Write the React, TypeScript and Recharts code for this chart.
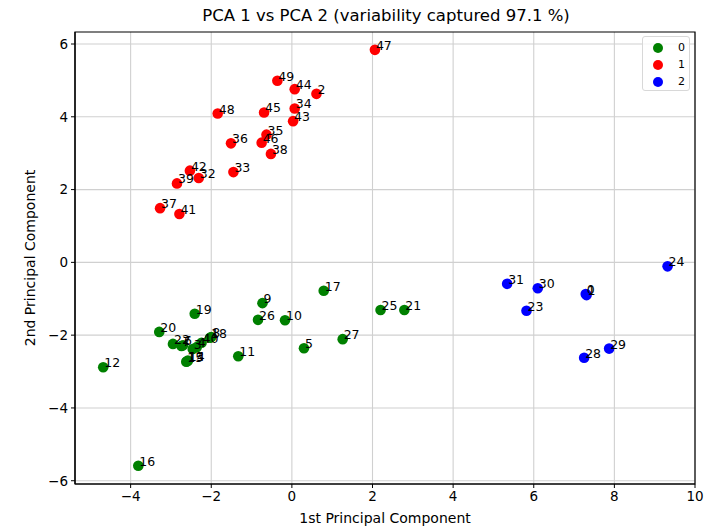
import React from 'react';
import { ScatterChart, Scatter, XAxis, YAxis, CartesianGrid, Legend, ReferenceArea } from 'recharts';

type Pt = { id: number; x: number; y: number };

const class0: Pt[] = [
  { id: 3, x: -2.46, y: -2.38 },
  { id: 4, x: -2.36, y: -2.33 },
  { id: 5, x: 0.3, y: -2.36 },
  { id: 6, x: -2.7, y: -2.28 },
  { id: 7, x: -2.74, y: -2.3 },
  { id: 8, x: -2.0, y: -2.05 },
  { id: 9, x: -0.73, y: -1.12 },
  { id: 10, x: -0.17, y: -1.59 },
  { id: 11, x: -1.33, y: -2.58 },
  { id: 12, x: -4.68, y: -2.88 },
  { id: 13, x: -2.6, y: -2.72 },
  { id: 14, x: -2.58, y: -2.7 },
  { id: 15, x: -2.62, y: -2.73 },
  { id: 16, x: -3.81, y: -5.59 },
  { id: 17, x: 0.79, y: -0.78 },
  { id: 18, x: -2.03, y: -2.07 },
  { id: 19, x: -2.41, y: -1.41 },
  { id: 20, x: -3.29, y: -1.91 },
  { id: 21, x: 2.79, y: -1.31 },
  { id: 22, x: -2.95, y: -2.24 },
  { id: 25, x: 2.2, y: -1.31 },
  { id: 26, x: -0.84, y: -1.58 },
  { id: 27, x: 1.26, y: -2.11 },
  { id: 40, x: -2.24, y: -2.21 },
];

const class1: Pt[] = [
  { id: 2, x: 0.61, y: 4.63 },
  { id: 32, x: -2.31, y: 2.32 },
  { id: 33, x: -1.45, y: 2.48 },
  { id: 34, x: 0.07, y: 4.23 },
  { id: 35, x: -0.63, y: 3.51 },
  { id: 36, x: -1.51, y: 3.27 },
  { id: 37, x: -3.27, y: 1.49 },
  { id: 38, x: -0.52, y: 2.98 },
  { id: 39, x: -2.85, y: 2.17 },
  { id: 41, x: -2.79, y: 1.33 },
  { id: 42, x: -2.53, y: 2.52 },
  { id: 43, x: 0.03, y: 3.88 },
  { id: 44, x: 0.07, y: 4.76 },
  { id: 45, x: -0.69, y: 4.12 },
  { id: 46, x: -0.75, y: 3.29 },
  { id: 47, x: 2.06, y: 5.84 },
  { id: 48, x: -1.84, y: 4.09 },
  { id: 49, x: -0.36, y: 4.99 },
];

const class2: Pt[] = [
  { id: 0, x: 7.29, y: -0.87 },
  { id: 1, x: 7.31, y: -0.9 },
  { id: 23, x: 5.82, y: -1.33 },
  { id: 24, x: 9.32, y: -0.11 },
  { id: 28, x: 7.25, y: -2.62 },
  { id: 29, x: 7.87, y: -2.37 },
  { id: 30, x: 6.1, y: -0.71 },
  { id: 31, x: 5.34, y: -0.59 },
];

const classNames = ['0', '1', '2'];
const classColors = ['#008000', '#ff0000', '#0000ff'];
const xTicks = [-4, -2, 0, 2, 4, 6, 8, 10];
const yTicks = [-6, -4, -2, 0, 2, 4, 6];
const xDomain: [number, number] = [-5.38, 10];
const yDomain: [number, number] = [-6.09, 6.33];

const FONT = 'DejaVu Sans, sans-serif';
const fmt = (v: number) => (v < 0 ? '\u2212' + Math.abs(v) : String(v));

const Dot = (color: string) => (props: any) => {
  const { cx, cy } = props;
  if (cx == null || cy == null) return null;
  return <circle cx={cx} cy={cy} r={5.3} fill={color} />;
};

const LabelShape = (props: any) => {
  const { cx, cy, payload } = props;
  if (cx == null || cy == null) return null;
  return (
    <text x={cx + 1} y={cy} fontSize={12.5} fontFamily={FONT} fill="#000">
      {payload.id}
    </text>
  );
};

const LegendBox = () => (
  <div
    style={{
      width: 48,
      height: 55,
      border: '1px solid #d8d8d8',
      borderRadius: 3,
      background: 'rgba(255,255,255,0.8)',
      boxSizing: 'border-box',
      position: 'relative',
      fontFamily: FONT,
      fontSize: 11,
    }}
  >
    {classNames.map((n, i) => (
      <div key={n} style={{ position: 'absolute', left: 0, top: 4 + i * 17, height: 14, width: 48 }}>
        <div
          style={{
            position: 'absolute',
            left: 10,
            top: 2,
            width: 10,
            height: 10,
            borderRadius: 5,
            background: classColors[i],
          }}
        />
        <div style={{ position: 'absolute', left: 35, top: 0, lineHeight: '14px', color: '#000' }}>{n}</div>
      </div>
    ))}
  </div>
);

const allPts = [...class0, ...class1, ...class2];

export default function App() {
  return (
    <div style={{ position: 'absolute', left: 0, top: 0, width: 718, height: 526, background: '#fff' }}>
      <ScatterChart width={718} height={526} margin={{ top: 32, right: 23, bottom: 0, left: 0 }}>
        <CartesianGrid
          xAxisId="b"
          yAxisId="l"
          stroke="#d0d0d0"
          strokeWidth={1.1}
          horizontalValues={yTicks}
          verticalValues={xTicks}
        />
        <XAxis
          type="number"
          dataKey="x"
          xAxisId="b"
          domain={xDomain}
          ticks={xTicks}
          tickFormatter={fmt}
          allowDataOverflow
          height={42}
          stroke="#000"
          tickSize={4}
          tickMargin={3}
          tick={{ fill: '#000', fontSize: 13.5, fontFamily: FONT }}
          axisLine={{ stroke: '#000', strokeWidth: 1.2 }}
          tickLine={{ stroke: '#000' }}
          label={{ value: '1st Principal Component', position: 'insideBottom', offset: 3, fill: '#000', fontSize: 14, fontFamily: FONT }}
        />
        <YAxis
          type="number"
          dataKey="y"
          yAxisId="l"
          domain={yDomain}
          ticks={yTicks}
          tickFormatter={fmt}
          allowDataOverflow
          width={75}
          tickSize={4}
          tickMargin={3}
          tick={{ fill: '#000', fontSize: 13.5, fontFamily: FONT }}
          axisLine={{ stroke: '#000', strokeWidth: 1.2 }}
          tickLine={{ stroke: '#000' }}
          label={{ value: '2nd Principal Component', angle: -90, position: 'insideLeft', offset: 30, fill: '#000', fontSize: 14, fontFamily: FONT, style: { textAnchor: 'middle' } }}
        />
        <ReferenceArea
          xAxisId="b"
          yAxisId="l"
          x1={xDomain[0]}
          x2={xDomain[1]}
          y1={yDomain[0]}
          y2={yDomain[1]}
          fill="none"
          fillOpacity={0}
          stroke="#000"
          strokeWidth={1.2}
          ifOverflow="visible"
        />
        <Scatter name="0" data={class0} xAxisId="b" yAxisId="l" fill={classColors[0]} shape={Dot(classColors[0])} isAnimationActive={false} />
        <Scatter name="1" data={class1} xAxisId="b" yAxisId="l" fill={classColors[1]} shape={Dot(classColors[1])} isAnimationActive={false} />
        <Scatter name="2" data={class2} xAxisId="b" yAxisId="l" fill={classColors[2]} shape={Dot(classColors[2])} isAnimationActive={false} />
        <Scatter name="labels" data={allPts} xAxisId="b" yAxisId="l" shape={LabelShape} legendType="none" isAnimationActive={false} />
        <Legend
          layout="horizontal"
          verticalAlign="middle"
          align="center"
          content={() => <LegendBox />}
          wrapperStyle={{ position: 'absolute', left: 642, top: 36, width: 48, height: 55 }}
        />
        <text x={386} y={21} textAnchor="middle" fontSize={16.5} fontFamily={FONT} fill="#000">
          PCA 1 vs PCA 2 (variability captured 97.1 %)
        </text>
      </ScatterChart>
    </div>
  );
}
